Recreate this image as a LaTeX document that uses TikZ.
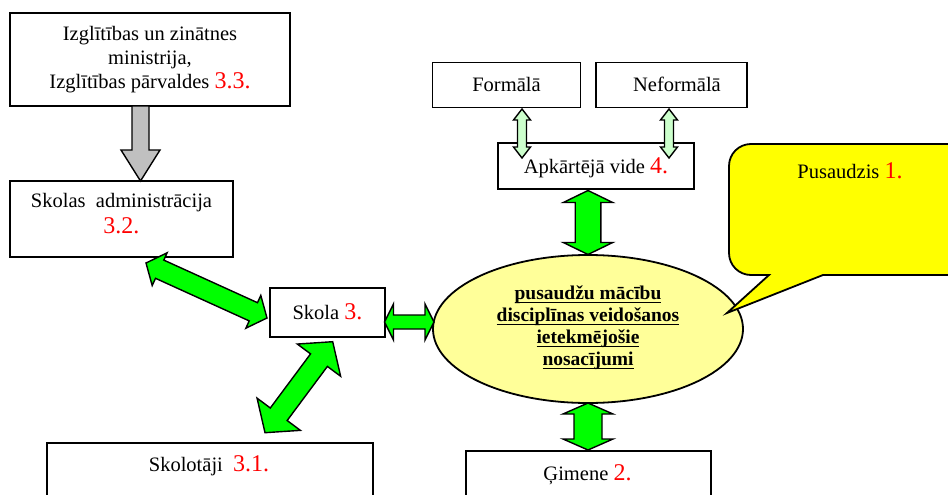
\documentclass[tikz,border=0pt]{standalone}
\usepackage{fontspec}
\setmainfont{Liberation Serif}
\usetikzlibrary{calc}

% red section numbers
\newcommand\rednum[1]{{\fontsize{24}{26}\selectfont\color{red}#1}}
% underline that sits just under the baseline
\newcommand\lineul[1]{\setbox0\hbox{#1}\makebox[0pt][l]{\rule[-3.4pt]{\wd0}{1.3pt}}\box0}

% double-headed block arrow: start, end, shaft half width, head half width, head length, style
\newcommand\blockarrow[6]{%
  \coordinate (ba-h1) at ($(#1)!#5!(#2)$);
  \coordinate (ba-h2) at ($(#2)!#5!(#1)$);
  \draw[#6] (#1) -- ($(ba-h1)!#4!90:(#2)$) -- ($(ba-h1)!#3!90:(#2)$)
    -- ($(ba-h2)!#3!-90:(#1)$) -- ($(ba-h2)!#4!-90:(#1)$) -- (#2)
    -- ($(ba-h2)!#4!90:(#1)$) -- ($(ba-h2)!#3!90:(#1)$)
    -- ($(ba-h1)!#3!-90:(#2)$) -- ($(ba-h1)!#4!-90:(#2)$) -- cycle;}

% single-headed block arrow: tail, tip, shaft half width, head half width, head length, style
\newcommand\onearrow[6]{%
  \coordinate (oa-h) at ($(#2)!#5!(#1)$);
  \draw[#6] ($(#1)!#3!-90:(#2)$) -- ($(oa-h)!#3!90:(#1)$) -- ($(oa-h)!#4!90:(#1)$)
    -- (#2) -- ($(oa-h)!#4!-90:(#1)$) -- ($(oa-h)!#3!-90:(#1)$)
    -- ($(#1)!#3!90:(#2)$) -- cycle;}

\definecolor{arrowgreen}{HTML}{00FF00}
\definecolor{palegreen}{HTML}{CCFFCC}
\definecolor{paleyellow}{HTML}{FFFF99}
\definecolor{calloutyellow}{HTML}{FFFF00}
\definecolor{arrowgray}{HTML}{C0C0C0}

\tikzset{
  box/.style={draw=black, line width=1.8pt, fill=white, inner sep=0pt},
  txt/.style={inner sep=0pt, align=center, font=\fontsize{20.5}{24}\selectfont},
  greenarrow/.style={draw=black, line width=1.4pt, fill=arrowgreen, line join=miter},
  lightarrow/.style={draw=black, line width=1.4pt, fill=palegreen, line join=miter},
  grayarrow/.style={draw=black, line width=1.4pt, fill=arrowgray, line join=miter},
}

\begin{document}
\begin{tikzpicture}[x=1pt, y=-1pt]
\useasboundingbox (0,0) rectangle (948,495);
\clip (0,0) rectangle (948,495);

% boxes
\node[box, minimum width=280pt, minimum height=93pt] (min) at (150,59.5) {};
\node[txt] (mintxt) at (150,60) {Izglītības un zinātnes\\ministrija,\\Izglītības pārvaldes \rednum{3.3.}};

\node[box, minimum width=223pt, minimum height=76pt] (adm) at (121.5,219) {};
\node[txt] (admtxt) at (121.5,214) {Skolas\ \ administrācija\\[2pt]\rednum{3.2.}};

\node[box, minimum width=115pt, minimum height=49pt] (skola) at (327.5,312.5) {};
\node[txt] (skolatxt) at (327.5,312) {Skola \rednum{3.}};

\node[box, minimum width=326pt, minimum height=77pt] (skolot) at (210,481.5) {};
\node[txt] (skolottxt) at (209,466) {Skolotāji\ \ \rednum{3.1.}};

\node[box, minimum width=245pt, minimum height=69pt] (gim) at (588.5,485.5) {};
\node[txt] (gimtxt) at (587.5,475) {Ģimene \rednum{2.}};

\node[box, minimum width=148pt, minimum height=45pt] (form) at (506.5,85) {};
\node[txt] (formtxt) at (506.5,84) {Formālā};

\node[box, minimum width=151pt, minimum height=45pt] (neform) at (671.5,85) {};
\node[txt] (neformtxt) at (677,84) {Neformālā};

\node[box, minimum width=196pt, minimum height=46pt] (apk) at (596,166) {};
\node[txt] (apktxt) at (596,168) {Apkārtējā vide \rednum{4.}};

% central ellipse
\draw[line width=1.8pt, fill=paleyellow] (588,329) ellipse [x radius=155, y radius=74];
\coordinate (ell) at (588,329);
\node[inner sep=0pt, align=center, font=\fontsize{19.5}{22}\selectfont\bfseries] (elltxt) at (588,328)
  {\lineul{pusaudžu mācību}\\\lineul{disciplīnas veidošanos}\\\lineul{ietekmējošie}\\\lineul{nosacījumi}};

% connector end points
\coordinate (g1) at (140.5,106);
\coordinate (g2) at (140.5,181);
\coordinate (f1) at (522,109);
\coordinate (f2) at (522,158);
\coordinate (n1) at (669,109);
\coordinate (n2) at (669,158);
\coordinate (a1) at (588,190.5);
\coordinate (a2) at (588,254.5);
\coordinate (e1) at (588,403);
\coordinate (e2) at (588,450);
\coordinate (s1) at (384.5,322);
\coordinate (s2) at (434,322);
\coordinate (d1) at (146,263);
\coordinate (d2) at (267,318);
\coordinate (k1) at (332.7,341.7);
\coordinate (k2) at (265,432.7);

% arrows
\onearrow{g1}{g2}{8.5pt}{19.5pt}{31pt}{grayarrow}
\blockarrow{f1}{f2}{4.5pt}{8.5pt}{11pt}{lightarrow}
\blockarrow{n1}{n2}{4.5pt}{8.5pt}{11pt}{lightarrow}
\blockarrow{a1}{a2}{12.8pt}{24.7pt}{12pt}{greenarrow}
\blockarrow{e1}{e2}{14pt}{25pt}{11pt}{greenarrow}
\blockarrow{s1}{s2}{7pt}{18pt}{9pt}{greenarrow}
\blockarrow{d1}{d2}{10pt}{18pt}{15pt}{greenarrow}
\blockarrow{k1}{k2}{10.5pt}{27pt}{23pt}{greenarrow}

% speech callout
\draw[line width=1.8pt, fill=calloutyellow, line join=miter]
  (769,275) [rounded corners=22pt] -- (729,275) -- (729,144) -- (975,144) -- (975,275)
  [sharp corners] -- (823,275) -- (727,313) -- cycle;
\node[txt] (pustxt) at (850,171) {Pusaudzis \rednum{1.}};
\end{tikzpicture}
\end{document}
